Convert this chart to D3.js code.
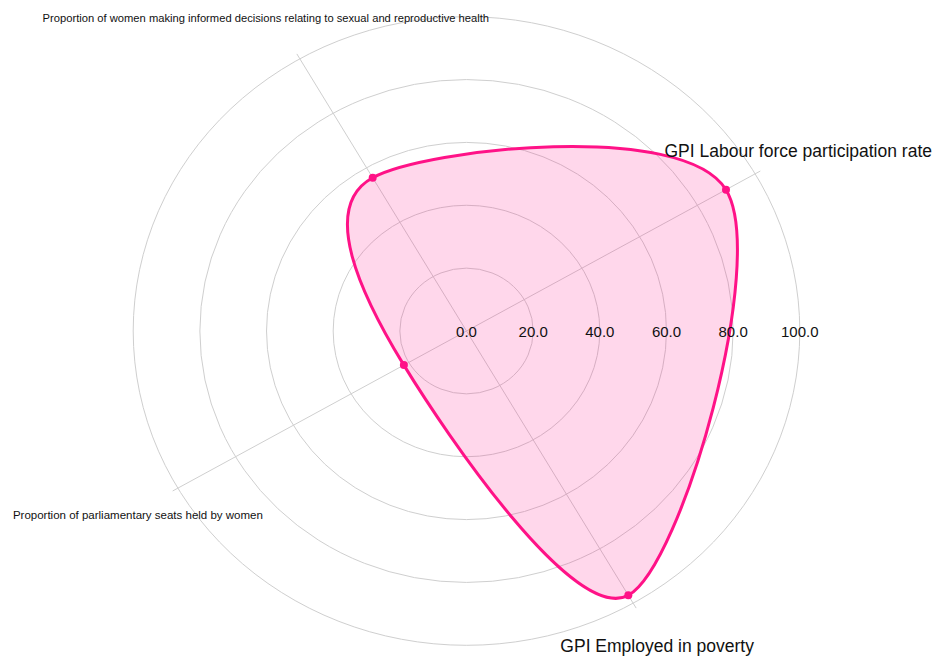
<!DOCTYPE html>
<html>
<head>
<meta charset="utf-8">
<script src="https://cdn.jsdelivr.net/npm/d3@7"></script>
<style>
  body { margin: 0; background: #fff; }
  text { font-family: "Liberation Sans", Arial, sans-serif; fill: #111; }
</style>
</head>
<body>
<script>
// data
var axes = ["GPI Labour force participation rate",
            "Proportion of women making informed decisions relating to sexual and reproductive health",
            "Proportion of parliamentary seats held by women",
            "GPI Employed in poverty"];
var values = [89.9, 56.3, 21.7, 97.1];
var ticks = [0, 20, 40, 60, 80, 100];

var width = 933, height = 658;
var cx = 466.5, cy = 331;
var squash = 0.943; // picture is a little wider than tall

var svg = d3.select("body").append("svg")
    .attr("width", width)
    .attr("height", height);

var rScale = d3.scaleLinear().domain([0, 100]).range([0, 333.3]);
// first axis at 30 deg, going counter-clockwise
var angle = d3.scaleLinear().domain([0, axes.length]).range([Math.PI / 6, Math.PI / 6 + 2 * Math.PI]);

function px(i, v) { return cx + rScale(v) * Math.cos(angle(i)); }
function py(i, v) { return cy - squash * rScale(v) * Math.sin(angle(i)); }

// rings
svg.append("g").selectAll("ellipse")
    .data(ticks.filter(function(t) { return t > 0; }))
    .join("ellipse")
    .attr("cx", cx).attr("cy", cy)
    .attr("rx", function(t) { return rScale(t); })
    .attr("ry", function(t) { return squash * rScale(t); })
    .attr("fill", "none")
    .attr("stroke", "#cfcfcf")
    .attr("stroke-width", 1);

// spokes (a bit past the outer ring)
svg.append("g").selectAll("line")
    .data(axes)
    .join("line")
    .attr("x1", cx).attr("y1", cy)
    .attr("x2", function(d, i) { return px(i, 101.8); })
    .attr("y2", function(d, i) { return py(i, 101.8); })
    .attr("stroke", "#cfcfcf")
    .attr("stroke-width", 1);

// area + spline outline
var pts = values.map(function(v, i) { return [px(i, v), py(i, v)]; });
var line = d3.line().curve(d3.curveCardinalClosed.tension(0));

svg.append("path")
    .datum(pts)
    .attr("d", line)
    .attr("fill", "#ff1287")
    .attr("fill-opacity", 0.17)
    .attr("stroke", "#ff1287")
    .attr("stroke-width", 3)
    .attr("stroke-linejoin", "round");

svg.append("g").selectAll("circle")
    .data(pts)
    .join("circle")
    .attr("cx", function(d) { return d[0]; })
    .attr("cy", function(d) { return d[1]; })
    .attr("r", 4)
    .attr("fill", "#ff1287");

// radial tick labels along the horizontal
svg.append("g").selectAll("text")
    .data(ticks)
    .join("text")
    .attr("x", function(t) { return cx + rScale(t); })
    .attr("y", cy + 6)
    .attr("text-anchor", "middle")
    .style("font-size", "15px")
    .text(d3.format(".1f"));

// axis titles
var labelPos = [
  { anchor: "end",    dx: 0,    dy: 0,   size: 17.5 },
  { anchor: "middle", dx: -34,  dy: -37, size: 11.2 },
  { anchor: "end",    dx: 85,   dy: 31,  size: 11.5 },
  { anchor: "middle", dx: 24,   dy: 49,  size: 17.5 }
];
svg.append("g").selectAll("text")
    .data(axes)
    .join("text")
    .attr("x", function(d, i) { return i === 0 ? width - 1 : px(i, 100) + labelPos[i].dx; })
    .attr("y", function(d, i) { return i === 0 ? 157 : py(i, 100) + labelPos[i].dy; })
    .attr("text-anchor", function(d, i) { return labelPos[i].anchor; })
    .style("font-size", function(d, i) { return labelPos[i].size + "px"; })
    .text(function(d) { return d; });
</script>
</body>
</html>
